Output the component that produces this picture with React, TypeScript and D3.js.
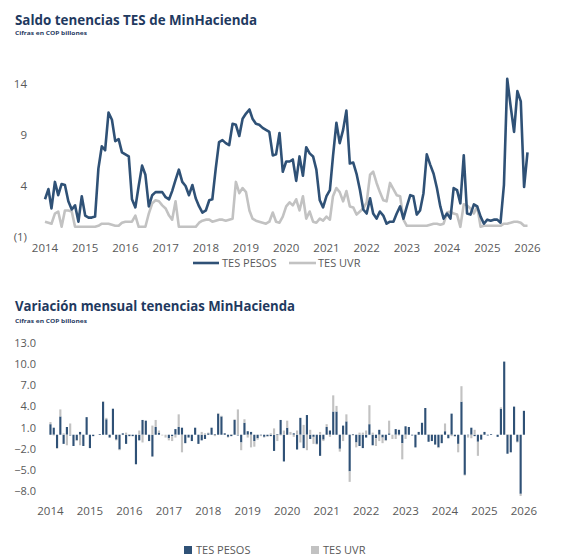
import * as d3 from "d3"

// Etiquetas de años (enero de cada año)
const anios = ["2014", "2015", "2016", "2017", "2018", "2019", "2020", "2021", "2022", "2023", "2024", "2025", "2026"]

// Saldo mensual, COP billones (ene-2014 a ene-2026)
const saldoPesos = [
  2.7, 3.7, 1.8, 4.4, 3.1, 4.2, 4.1, 2.5, 1.7, 2.1, 0.5, 3.0,
  1.1, 0.9, 0.9, 1.0, 5.7, 7.9, 7.5, 11.2, 10.5, 8.4, 8.6, 7.3,
  7.1, 6.9, 2.7, 1.9, 4.0, 6.0, 5.1, 2.0, 3.1, 3.4, 3.4, 3.4,
  2.9, 2.7, 3.5, 4.6, 5.6, 4.4, 4.0, 3.1, 4.1, 2.8, 2.0, 1.4,
  1.6, 2.6, 2.7, 5.7, 8.3, 8.5, 8.2, 8.0, 10.1, 10.0, 8.9, 10.6,
  11.1, 11.5, 10.6, 10.1, 10.0, 9.7, 9.5, 9.3, 7.0, 7.1, 9.2, 5.4,
  6.4, 6.4, 6.6, 4.5, 6.9, 5.0, 7.8, 7.2, 6.9, 5.6, 2.6, 1.9,
  3.0, 3.6, 6.9, 10.2, 8.2, 9.5, 11.4, 6.2, 6.3, 5.2, 3.6, 1.7,
  1.3, 2.8, 1.3, 0.8, 1.5, 1.1, 0.3, 0.5, 0.5, 1.3, 2.0, 0.8,
  2.0, 3.1, 3.0, 1.2, 1.6, 3.3, 7.1, 6.1, 5.2, 3.8, 2.0, 0.8,
  1.3, 0.8, 3.8, 3.6, 2.3, 7.0, 1.3, 1.2, 2.2, 2.0, 1.0, 0.3,
  0.7, 0.6, 0.7, 0.7, 0.4, 4.1, 14.5, 11.8, 9.3, 13.3, 12.3, 3.9,
  7.3,
]

const saldoUvr = [
  0.5, 0.4, 0.3, 1.3, 1.5, 0.0, 1.6, 1.6, 1.5, 0.0, 0.0, 0.0,
  0.0, 0.0, 0.0, 0.0, 0.1, 0.3, 0.3, 0.3, 0.2, 0.1, 0.1, 0.4,
  0.5, 0.5, 0.5, 1.1, 0.0, 0.0, 0.0, 1.3, 2.3, 2.6, 2.5, 2.1,
  1.8, 1.1, 0.7, 2.5, 0.0, 0.0, 0.0, 0.0, 0.0, 0.0, 0.4, 0.6,
  0.7, 0.7, 0.5, 0.6, 0.7, 0.7, 0.6, 0.7, 0.8, 4.4, 3.3, 3.8,
  3.4, 1.6, 0.8, 0.6, 0.5, 0.4, 0.3, 0.5, 1.4, 0.5, 0.4, 1.0,
  2.0, 2.4, 2.1, 2.7, 1.6, 3.0, 0.8, 1.5, 0.5, 0.4, 0.8, 0.6,
  1.0, 0.7, 3.0, 3.8, 3.4, 2.5, 3.5, 2.0, 1.9, 1.2, 1.5, 1.8,
  2.4, 5.1, 5.4, 4.3, 3.4, 2.6, 2.5, 4.3, 3.7, 3.1, 3.0, 0.7,
  0.1, 0.1, 0.1, 0.1, 0.1, 0.1, 0.1, 0.2, 0.3, 0.3, 0.2, 0.3,
  1.4, 1.5, 1.3, 1.2, 0.0, 2.2, 2.1, 1.8, 1.3, 2.0, 0.0, 0.1,
  0.1, 0.1, 0.1, 0.1, 0.1, 0.3, 0.3, 0.4, 0.5, 0.5, 0.4, 0.1,
  0.1,
]

// Variación mensual, COP billones
const varPesos = [
  1.5, 1.0, -1.9, 2.6, -1.3, 1.1, -0.1, -1.6, -0.8, 0.4, -1.6, 2.5,
  -1.9, -0.2, 0.0, 0.1, 4.7, 2.2, -0.4, 3.7, -0.7, -2.1, 0.2, -1.3,
  -0.2, -0.2, -4.2, -0.8, 2.1, 2.0, -0.9, -3.1, 1.1, 0.3, 0.0, 0.0,
  -0.5, -0.2, 0.8, 1.1, 1.0, -1.2, -0.4, -0.9, 1.0, -1.3, -0.8, -0.6,
  0.2, 1.0, 0.1, 3.0, 2.6, 0.2, -0.3, -0.2, 2.1, -0.1, -1.1, 1.7,
  0.5, 0.4, -0.9, -0.5, -0.1, -0.3, -0.2, -0.2, -2.3, 0.1, 2.1, -3.8,
  1.0, 0.0, 0.2, -2.1, 2.4, -1.9, 2.8, -0.6, -0.3, -1.3, -3.0, -0.7,
  1.1, 0.6, 3.3, 3.3, -2.0, 1.3, 1.9, -5.2, 0.1, -1.1, -1.6, -1.9,
  -0.4, 1.5, -1.5, -0.5, 0.7, -0.4, -0.8, 0.2, 0.0, 0.8, 0.7, -1.2,
  1.2, 1.1, -0.1, -1.8, 0.4, 1.7, 3.8, -1.0, -0.9, -1.4, -1.8, -1.2,
  0.5, -0.5, 3.0, -0.2, -1.3, 4.7, -5.7, -0.1, 1.0, -0.2, -1.0, -0.7,
  0.4, -0.1, 0.1, 0.0, -0.3, 3.7, 10.4, -2.7, -2.5, 4.0, -1.0, -8.4,
  3.4,
]

const varUvr = [
  0.3, -0.1, -0.1, 1.0, 0.2, -1.5, 1.6, 0.0, -0.1, -1.5, 0.0, 0.0,
  0.0, 0.0, 0.0, 0.0, 0.1, 0.2, 0.0, 0.0, -0.1, -0.1, 0.0, 0.3,
  0.1, 0.0, 0.0, 0.6, -1.1, 0.0, 0.0, 1.3, 1.0, 0.3, -0.1, -0.4,
  -0.3, -0.7, -0.4, 1.8, -2.5, 0.0, 0.0, 0.0, 0.0, 0.0, 0.4, 0.2,
  0.1, 0.0, -0.2, 0.1, 0.1, 0.0, -0.1, 0.1, 0.1, 3.6, -1.1, 0.5,
  -0.4, -1.8, -0.8, -0.2, -0.1, -0.1, -0.1, 0.2, 0.9, -0.9, -0.1, 0.6,
  1.0, 0.4, -0.3, 0.6, -1.1, 1.4, -2.2, 0.7, -1.0, -0.1, 0.4, -0.2,
  0.4, -0.3, 2.3, 0.8, -0.4, -0.9, 1.0, -1.5, -0.1, -0.7, 0.3, 0.3,
  0.6, 2.7, 0.3, -1.1, -0.9, -0.8, -0.1, 1.8, -0.6, -0.6, -0.1, -2.3,
  -0.6, 0.0, 0.0, 0.0, 0.0, 0.0, 0.0, 0.1, 0.1, 0.0, -0.1, 0.1,
  1.1, 0.1, -0.2, -0.1, -1.2, 2.2, -0.1, -0.3, -0.5, 0.7, -2.0, 0.1,
  0.0, 0.0, 0.0, 0.0, 0.0, 0.2, 0.0, 0.1, 0.1, 0.0, -0.1, -0.3,
  0.0,
]

const ticksSaldo = [14, 9, 4, -1]
const ticksVar = [13, 10, 7, 4, 1, -2, -5, -8]

const AZUL = "#2f5176"
const GRIS = "#c2c2c2"
const TITULO = "#1f3a5f"
const TEXTO = "#595959"
const FUENTE = "'Open Sans', sans-serif"

const meses = d3.timeMonth.range(new Date(2014, 0, 1), new Date(2026, 1, 1))

export default function App() {
  // --- Saldo (líneas)
  const x1 = d3.scaleTime().domain([meses[0], meses[meses.length - 1]]).range([45, 527.5])
  const y1 = d3.scaleLinear().domain([-1, 14]).range([237, 84])
  const linea = d3
    .line<number>()
    .x((_, i) => x1(meses[i]))
    .y((d) => y1(d))
  const fmtSaldo = (d: number) => (d < 0 ? `(${-d})` : `${d}`)

  // --- Variación (barras apiladas)
  const x2 = d3
    .scaleBand<number>()
    .domain(d3.range(meses.length))
    .range([49.4, 525])
    .paddingInner(0.35)
  const y2 = d3.scaleLinear().domain([-8, 13]).range([491, 343.3])
  const tabla = meses.map((_, i) => ({ pesos: varPesos[i], uvr: varUvr[i] }))
  const series = d3
    .stack<{ pesos: number; uvr: number }>()
    .keys(["pesos", "uvr"])
    .offset(d3.stackOffsetDiverging)(tabla)
  const colores = [AZUL, GRIS]
  const fmtVar = d3.format(".1f")

  return (
    <svg
      width={561}
      height={560}
      style={{ position: "absolute", left: 0, top: 0, background: "#fff" }}
      fontFamily={FUENTE}
    >
      {/* Títulos */}
      <text x={15} y={24.5} fontSize={14} fontWeight={700} fill={TITULO} textLength={242} lengthAdjust="spacingAndGlyphs">
        Saldo tenencias TES de MinHacienda
      </text>
      <text x={15} y={35} fontSize={5.8} fontWeight={700} fill={TITULO} textLength={72} lengthAdjust="spacingAndGlyphs">
        Cifras en COP billones
      </text>

      {/* Eje Y saldo */}
      {ticksSaldo.map((t) => (
        <text key={t} x={27} y={y1(t)} dy="0.35em" textAnchor="end" fontSize={11.5} fill={TEXTO}>
          {fmtSaldo(t)}
        </text>
      ))}
      {/* Eje X saldo */}
      {anios.map((a, i) => (
        <text key={a} x={x1(meses[i * 12])} y={251.5} textAnchor="middle" fontSize={11.5} fill={TEXTO}>
          {a}
        </text>
      ))}

      <path d={linea(saldoUvr) || ""} fill="none" stroke={GRIS} strokeWidth={2.6} strokeLinejoin="round" />
      <path d={linea(saldoPesos) || ""} fill="none" stroke={AZUL} strokeWidth={2.6} strokeLinejoin="round" />

      {/* Leyenda saldo */}
      <line x1={193} x2={219} y1={263} y2={263} stroke={AZUL} strokeWidth={2.6} />
      <text x={222} y={267} fontSize={11} fill={TEXTO}>TES PESOS</text>
      <line x1={289} x2={316} y1={263} y2={263} stroke={GRIS} strokeWidth={2.6} />
      <text x={318} y={267} fontSize={11} fill={TEXTO}>TES UVR</text>

      {/* Títulos variación */}
      <text x={15} y={311} fontSize={14} fontWeight={700} fill={TITULO} textLength={280} lengthAdjust="spacingAndGlyphs">
        Variación mensual tenencias MinHacienda
      </text>
      <text x={15} y={323} fontSize={5.8} fontWeight={700} fill={TITULO} textLength={72} lengthAdjust="spacingAndGlyphs">
        Cifras en COP billones
      </text>

      {/* Eje Y variación */}
      {ticksVar.map((t) => (
        <text key={t} x={36} y={y2(t)} dy="0.35em" textAnchor="end" fontSize={11} fill={TEXTO}>
          {fmtVar(t)}
        </text>
      ))}

      {/* Barras */}
      {series.map((s, k) => (
        <g key={s.key} fill={colores[k]}>
          {s.map((d, i) => (
            <rect
              key={i}
              x={x2(i)}
              width={x2.bandwidth()}
              y={y2(Math.max(d[0], d[1]))}
              height={Math.abs(y2(d[0]) - y2(d[1]))}
            />
          ))}
        </g>
      ))}

      {/* Eje X variación */}
      {anios.map((a, i) => (
        <text
          key={a}
          x={(x2(i * 12) || 0) + x2.bandwidth() / 2}
          y={515}
          textAnchor="middle"
          fontSize={11.5}
          fill={TEXTO}
        >
          {a}
        </text>
      ))}

      {/* Leyenda variación */}
      <rect x={184} y={546} width={8} height={8} fill={AZUL} />
      <text x={196} y={554} fontSize={11} fill={TEXTO}>TES PESOS</text>
      <rect x={311} y={546} width={8} height={8} fill={GRIS} />
      <text x={323} y={554} fontSize={11} fill={TEXTO}>TES UVR</text>
    </svg>
  )
}
